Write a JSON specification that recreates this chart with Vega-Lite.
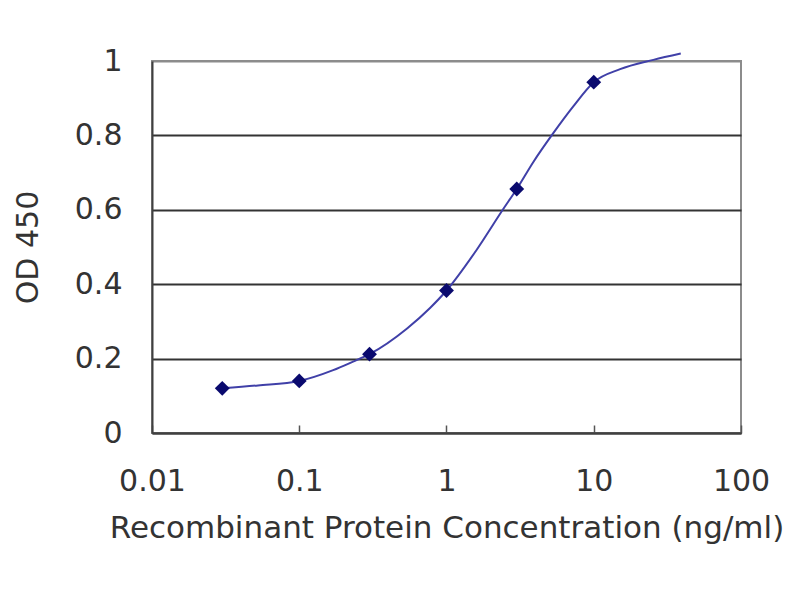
{
  "$schema": "https://vega.github.io/schema/vega-lite/v6.json",
  "width": 589,
  "height": 372,
  "autosize": {"type": "none"},
  "padding": {"left": 152, "top": 61, "right": 59, "bottom": 167},
  "background": "white",
  "config": {
    "view": {"stroke": "#8c8c8c", "strokeWidth": 2},
    "font": "DejaVu Sans"
  },
  "datasets": {
    "curve": [
      {"conc": 0.03, "od": 0.12},
      {"conc": 0.0525, "od": 0.128},
      {"conc": 0.1, "od": 0.14},
      {"conc": 0.17, "od": 0.169},
      {"conc": 0.232, "od": 0.192},
      {"conc": 0.3, "od": 0.212},
      {"conc": 0.54, "od": 0.281},
      {"conc": 0.773, "od": 0.336},
      {"conc": 1, "od": 0.383},
      {"conc": 1.6, "od": 0.492},
      {"conc": 2.41, "od": 0.6},
      {"conc": 3, "od": 0.656},
      {"conc": 3.88, "od": 0.728},
      {"conc": 5.31, "od": 0.806},
      {"conc": 7.26, "od": 0.878},
      {"conc": 10, "od": 0.943},
      {"conc": 15.1, "od": 0.978},
      {"conc": 25.4, "od": 1.003},
      {"conc": 39, "od": 1.02}
    ],
    "points": [
      {"conc": 0.03, "od": 0.12},
      {"conc": 0.1, "od": 0.14},
      {"conc": 0.3, "od": 0.212},
      {"conc": 1, "od": 0.383},
      {"conc": 3, "od": 0.656},
      {"conc": 10, "od": 0.943}
    ]
  },
  "encoding": {
    "x": {
      "field": "conc",
      "type": "quantitative",
      "scale": {"type": "log", "domain": [0.01, 100], "nice": false},
      "axis": {
        "title": "Recombinant Protein Concentration (ng/ml)",
        "values": [0.01, 0.1, 1, 10, 100],
        "format": "~g",
        "grid": false,
        "domainColor": "#404040",
        "domainWidth": 2,
        "tickColor": "#555555",
        "tickWidth": 1.5,
        "tickSize": -8,
        "labelFontSize": 30,
        "labelColor": "#333333",
        "labelPadding": 41,
        "labelFlush": false,
        "titleFontSize": 31,
        "titleFontWeight": "normal",
        "titleColor": "#333333",
        "titlePadding": 17
      }
    },
    "y": {
      "field": "od",
      "type": "quantitative",
      "scale": {"domain": [0, 1], "nice": false},
      "axis": {
        "title": "OD 450",
        "values": [0, 0.2, 0.4, 0.6, 0.8, 1],
        "format": "~g",
        "grid": true,
        "gridColor": {"condition": {"test": "datum.value >= 1", "value": "#8c8c8c"}, "value": "#333333"},
        "gridWidth": 2,
        "ticks": false,
        "domainColor": "#404040",
        "domainWidth": 2,
        "labelFontSize": 30,
        "labelColor": "#333333",
        "labelPadding": 30,
        "titleFontSize": 30,
        "titleFontWeight": "normal",
        "titleColor": "#333333",
        "titlePadding": 31
      }
    }
  },
  "layer": [
    {
      "data": {"name": "curve"},
      "mark": {"type": "line", "interpolate": "monotone", "color": "#4040a8", "strokeWidth": 2, "clip": false}
    },
    {
      "data": {"name": "points"},
      "mark": {"type": "point", "shape": "diamond", "filled": true, "color": "#0a0a6e", "size": 220, "opacity": 1}
    }
  ]
}
